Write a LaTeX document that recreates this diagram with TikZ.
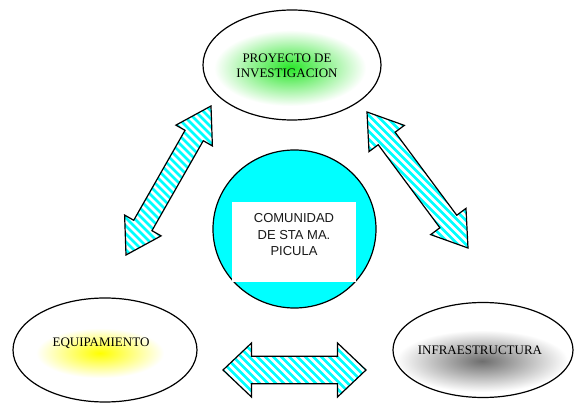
\documentclass[tikz,border=0pt]{standalone}
\usepackage{fontspec}
\setmainfont{Liberation Serif}
\newfontfamily\arialf{Liberation Sans}
\usetikzlibrary{calc,shapes.geometric}
\definecolor{aqua}{RGB}{0,255,255}
\definecolor{glowgreen}{RGB}{40,230,40}
\definecolor{glowyellow}{RGB}{255,255,0}
\definecolor{glowgray}{RGB}{110,110,110}
\newcommand\stripedarrow[5]{%
  \coordinate (#1-#2-a) at ($(#1)!#3!(#2)$);
  \coordinate (#1-#2-b) at ($(#2)!#3!(#1)$);
  \def\arrpath{(#1) -- ($(#1-#2-a)!#4!90:(#2)$) -- ($(#1-#2-a)!#5!90:(#2)$) -- ($(#1-#2-b)!#5!-90:(#1)$) -- ($(#1-#2-b)!#4!-90:(#1)$) -- (#2) -- ($(#1-#2-b)!#4!90:(#1)$) -- ($(#1-#2-b)!#5!90:(#1)$) -- ($(#1-#2-a)!#5!-90:(#2)$) -- ($(#1-#2-a)!#4!-90:(#2)$) -- cycle}%
  \begin{scope}
    \clip \arrpath;
    \fill[white] \arrpath;
    \foreach \k in {-45,...,45}
      \draw[aqua, line width=2.8pt] ($($(#1)!0.5!(#2)$)+(\k*8-160,-160)$) -- ++(320,320);
  \end{scope}
  \draw[arrowline] \arrpath;
}
\begin{document}
\begin{tikzpicture}[x=1pt,y=-1pt,
  bubble/.style={ellipse, draw=black, line width=1.2pt, inner sep=0pt},
  arrowline/.style={draw=black, line width=1.2pt, line join=miter},
  serifl/.style={font=\fontsize{13}{15}\selectfont, align=center, inner sep=0pt},
  sansl/.style={font=\arialf\fontsize{13}{16.5}\selectfont, align=center, inner sep=0pt, text=black!90}]
\useasboundingbox (0,0) rectangle (574,406);
% glows
\begin{scope}
  \clip (292,65) ellipse [x radius=88, y radius=54];
  \shade[inner color=glowgreen, outer color=white] (214,30) rectangle (366,106);
\end{scope}
\begin{scope}
  \clip (105,350) ellipse [x radius=91, y radius=51];
  \shade[inner color=glowyellow, outer color=white] (36,328) rectangle (164,378);
\end{scope}
\begin{scope}
  \clip (483,350) ellipse [x radius=89, y radius=46];
  \shade[inner color=glowgray, outer color=white] (396,330) rectangle (568,392);
\end{scope}
% ellipses
\node[bubble, minimum width=178pt, minimum height=110pt] (proj) at (292,65) {};
\node[bubble, minimum width=184pt, minimum height=104pt] (equip) at (105,350) {};
\node[bubble, minimum width=180pt, minimum height=95pt] (infra) at (483,350) {};
\node[bubble, fill=aqua, minimum width=163pt, minimum height=158pt] (com) at (294.5,229) {};
\node[fill=white, minimum width=124pt, minimum height=80pt, inner sep=0pt] (box) at (294,242) {};
% texts
\node[serifl] (tproj) at (287,65.5) {PROYECTO DE\\INVESTIGACION};
\node[serifl] (tequip) at (101,343) {EQUIPAMIENTO};
\node[serifl] (tinfra) at (480,350) {INFRAESTRUCTURA};
\node[sansl] (tcom) at (294,235) {COMUNIDAD\\DE STA MA.\\PICULA};
% arrows
\coordinate (L1) at (126,255);
\coordinate (L2) at (211,106);
\coordinate (R1) at (367,112);
\coordinate (R2) at (468,248);
\coordinate (H1) at (223,370);
\coordinate (H2) at (366,370);
\stripedarrow{L1}{L2}{34pt}{21pt}{10.5pt}
\stripedarrow{R1}{R2}{33pt}{22pt}{10.5pt}
\stripedarrow{H1}{H2}{28.5pt}{27pt}{13.7pt}
\end{tikzpicture}
\end{document}
